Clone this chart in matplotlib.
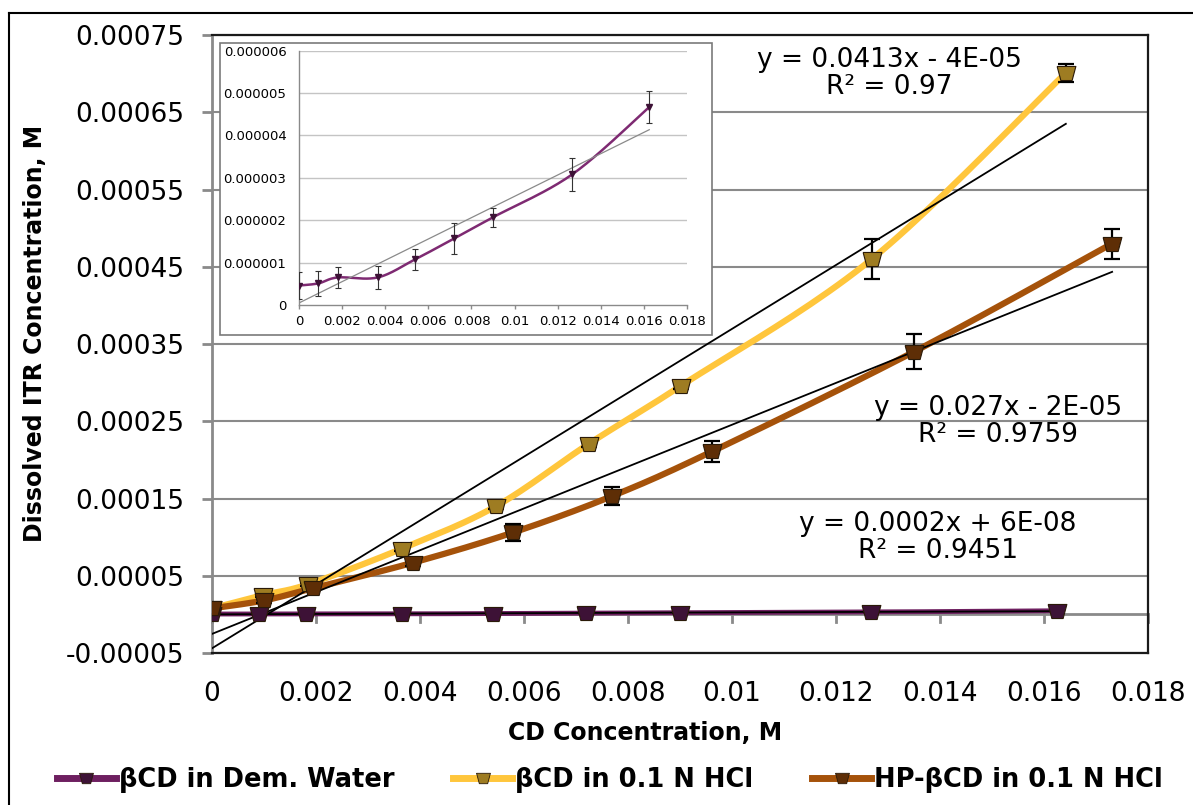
import numpy as np
import matplotlib
matplotlib.use("Agg")
import matplotlib.pyplot as plt
from matplotlib.lines import Line2D
from matplotlib.patches import Rectangle
import matplotlib.transforms as mtransforms

# ---------------- data ----------------
x_water = [0, 0.0009, 0.0018, 0.00365, 0.0054, 0.0072, 0.009, 0.01267, 0.01625]
y_water = [4.6e-7, 5.1e-7, 6.5e-7, 6.5e-7, 1.08e-6, 1.57e-6, 2.07e-6, 3.08e-6, 4.67e-6]
e_water = [0.32e-6, 0.30e-6, 0.24e-6, 0.27e-6, 0.25e-6, 0.37e-6, 0.23e-6, 0.38e-6, 0.38e-6]

x_hcl = [0, 0.00098, 0.00185, 0.00365, 0.00546, 0.00725, 0.00902, 0.01269, 0.01642]
y_hcl = [7.8e-6, 2.5e-5, 3.9e-5, 8.5e-5, 1.40e-4, 2.21e-4, 2.96e-4, 4.60e-4, 7.01e-4]
e_hcl = [2e-6, 2e-6, 2e-6, 3e-6, 3e-6, 4e-6, 4e-6, 2.65e-5, 1.16e-5]

x_hp = [0, 0.001, 0.00195, 0.00387, 0.00579, 0.00769, 0.00962, 0.0135, 0.01731]
y_hp = [7.8e-6, 1.8e-5, 3.4e-5, 6.7e-5, 1.06e-4, 1.53e-4, 2.11e-4, 3.40e-4, 4.80e-4]
e_hp = [2e-6, 3e-6, 3e-6, 5e-6, 1.1e-5, 1.16e-5, 1.36e-5, 2.26e-5, 1.94e-5]

labels = ["βCD in Dem. Water", "βCD in 0.1 N HCl", "HP-βCD in 0.1 N HCl"]
eq_texts = ["y = 0.0413x - 4E-05\nR² = 0.97",
            "y = 0.027x - 2E-05\nR² = 0.9759",
            "y = 0.0002x + 6E-08\nR² = 0.9451"]

y_ticks = [-0.00005, 0.00005, 0.00015, 0.00025, 0.00035, 0.00045, 0.00055, 0.00065, 0.00075]
y_ticklabels = ["-0.00005", "0.00005", "0.00015", "0.00025", "0.00035", "0.00045",
                "0.00055", "0.00065", "0.00075"]
x_ticks = [0, 0.002, 0.004, 0.006, 0.008, 0.01, 0.012, 0.014, 0.016, 0.018]
x_ticklabels = ["0", "0.002", "0.004", "0.006", "0.008", "0.01", "0.012", "0.014", "0.016", "0.018"]
in_y_ticks = [0, 1e-6, 2e-6, 3e-6, 4e-6, 5e-6, 6e-6]
in_y_ticklabels = ["0", "0.000001", "0.000002", "0.000003", "0.000004", "0.000005", "0.000006"]

c_water = "#6E1F60"
c_hcl = "#FFC63C"
c_hp = "#A5520A"
m_water = "#3D1236"
m_hcl = "#9E7C22"
m_hp = "#5E2E06"

plt.rcParams["font.family"] = ["DejaVu Sans"]

TRAP = [(-1, 0.75), (1, 0.75), (0.6, -0.75), (-0.6, -0.75), (-1, 0.75)]


def smooth(xs, ys, xr, yr, n=24):
    """Excel-like Bezier smoothing in normalized screen space."""
    px = np.asarray(xs) / xr
    py = np.asarray(ys) / yr
    P = np.column_stack([px, py])
    P = np.vstack([P[0], P, P[-1]])
    out = []
    for i in range(1, len(P) - 2):
        p0, p1, p2, p3 = P[i - 1], P[i], P[i + 1], P[i + 2]
        t = np.linspace(0, 1, n)[:, None]
        c1 = p1 + (p2 - p0) / 6.0
        c2 = p2 - (p3 - p1) / 6.0
        seg = ((1 - t) ** 3) * p1 + 3 * ((1 - t) ** 2) * t * c1 + 3 * (1 - t) * t ** 2 * c2 + t ** 3 * p2
        out.append(seg if i == 1 else seg[1:])
    out = np.vstack(out)
    return out[:, 0] * xr, out[:, 1] * yr


fig = plt.figure(figsize=(11.93, 8.05), dpi=100)

# outer chart border (top & left visible)
fig.add_artist(Line2D([9 / 1193, 1.0], [1 - 13 / 805, 1 - 13 / 805], color="black", lw=1.5,
                      transform=fig.transFigure))
fig.add_artist(Line2D([9 / 1193, 9 / 1193], [0, 1 - 13 / 805], color="black", lw=1.5,
                      transform=fig.transFigure))

ax = fig.add_axes([212 / 1193, 1 - 653 / 805, 936 / 1193, 618 / 805])
ax.set_xlim(0, 0.018)
ax.set_ylim(-0.00005, 0.00075)

# grid
for yt in y_ticks:
    ax.axhline(yt, color="#8a8a8a", lw=1.5, zorder=0.5)
# x axis at y=0
ax.axhline(0, color="#8a8a8a", lw=2.0, zorder=0.6)
trans = mtransforms.blended_transform_factory(ax.transData, ax.transAxes)
y0 = 0.05 / 0.8
for xt in x_ticks:
    ax.plot([xt, xt], [y0, y0 - 0.013], color="#8a8a8a", lw=2.0, transform=trans,
            clip_on=False, zorder=0.6)

ax.set_yticks(y_ticks)
ax.set_yticklabels(y_ticklabels)
ax.set_xticks(x_ticks)
ax.set_xticklabels(x_ticklabels)
ax.tick_params(axis="y", length=7, width=2, color="#8a8a8a", pad=13, labelsize=19)
ax.tick_params(axis="x", length=0, pad=20, labelsize=19)
for s in ["top", "right", "bottom"]:
    ax.spines[s].set_color("#1a1a1a")
    ax.spines[s].set_linewidth(1.6)
ax.spines["left"].set_color("#8a8a8a")
ax.spines["left"].set_linewidth(2.0)

XR, YR = 0.018, 0.0008
series = [
    (x_water, y_water, e_water, c_water, m_water, 3.5),
    (x_hcl, y_hcl, e_hcl, c_hcl, m_hcl, 4.5),
    (x_hp, y_hp, e_hp, c_hp, m_hp, 4.5),
]
for xs, ys, es, c, mc, lw in series:
    sx, sy = smooth(xs, ys, XR, YR)
    ax.plot(sx, sy, color=c, lw=lw, solid_capstyle="round", zorder=2)
    ax.errorbar(xs, ys, yerr=es, fmt="none", ecolor="black", elinewidth=1.6,
                capsize=6, capthick=1.6, zorder=3)
    k, b = np.polyfit(xs, ys, 1)
    ax.plot([xs[0], xs[-1]], [k * xs[0] + b, k * xs[-1] + b], color="black", lw=1.3, zorder=3.5)
    ax.plot(xs, ys, linestyle="none", marker=TRAP, markersize=13.5, markerfacecolor=mc,
            markeredgecolor="#2a1a08", markeredgewidth=0.8, zorder=4)

# trendline equations
eq_pos = [(0.01302, 0.000700), (0.01512, 0.000250), (0.01396, 0.0000995)]
for (tx, ty), t in zip(eq_pos, eq_texts):
    ax.text(tx, ty, t, ha="center", va="center", fontsize=19, linespacing=1.05, zorder=5)

# axis titles
fig.text(35 / 1193, 1 - 333 / 805, "Dissolved ITR Concentration, M", rotation=90,
         ha="center", va="center", fontsize=17, fontweight="bold")
fig.text(645 / 1193, 1 - 733 / 805, "CD Concentration, M", ha="center", va="center",
         fontsize=17, fontweight="bold")

# legend
handles = [Line2D([0], [0], color=c, lw=5, marker=TRAP, markersize=10, markerfacecolor=mc,
                  markeredgecolor="#2a1a08", markeredgewidth=0.6)
           for _, _, _, c, mc, _ in series]
fig.legend(handles, labels, loc="center", bbox_to_anchor=(0.511, 1 - 780 / 805), ncol=3,
           frameon=False, handlelength=2.3, handletextpad=0.1, columnspacing=2.3,
           prop={"size": 18.5, "weight": "bold"})

# inset frame
fig.add_artist(Rectangle((220 / 1193, 1 - 335 / 805), 492 / 1193, 292 / 805,
                         transform=fig.transFigure, facecolor="white", edgecolor="#7a7a7a",
                         lw=1.2, zorder=1))
axi = fig.add_axes([299 / 1193, 1 - 305 / 805, 388 / 1193, 254.3 / 805], zorder=2)
axi.set_facecolor("none")
axi.set_xlim(0, 0.018)
axi.set_ylim(0, 6e-6)
for yt in in_y_ticks[1:]:
    axi.axhline(yt, color="#c4c4c4", lw=1.0, zorder=0.5)
axi.set_yticks(in_y_ticks)
axi.set_yticklabels(in_y_ticklabels)
axi.set_xticks(x_ticks)
axi.set_xticklabels(x_ticklabels)
axi.tick_params(axis="y", length=0, pad=9, labelsize=9.5)
axi.tick_params(axis="x", length=3, width=1, color="#8a8a8a", pad=4, labelsize=9.5)
for s in ["top", "right"]:
    axi.spines[s].set_visible(False)
for s in ["left", "bottom"]:
    axi.spines[s].set_color("#8a8a8a")
    axi.spines[s].set_linewidth(1.0)

sx, sy = smooth(x_water, y_water, 0.018, 6e-6)
axi.plot(sx, sy, color="#7E2A72", lw=1.8, zorder=2)
axi.errorbar(x_water, y_water, yerr=e_water, fmt="none", ecolor="#333333", elinewidth=0.8,
             capsize=2.5, capthick=0.8, zorder=3)
k, b = np.polyfit(x_water, y_water, 1)
axi.plot([x_water[0], x_water[-1]], [k * x_water[0] + b, k * x_water[-1] + b],
         color="#8a8a8a", lw=0.9, zorder=2.5)
axi.plot(x_water, y_water, linestyle="none", marker="v", markersize=5,
         markerfacecolor="#3D1236", markeredgecolor="#3D1236", zorder=4)

fig.savefig("out.png", dpi=100)
